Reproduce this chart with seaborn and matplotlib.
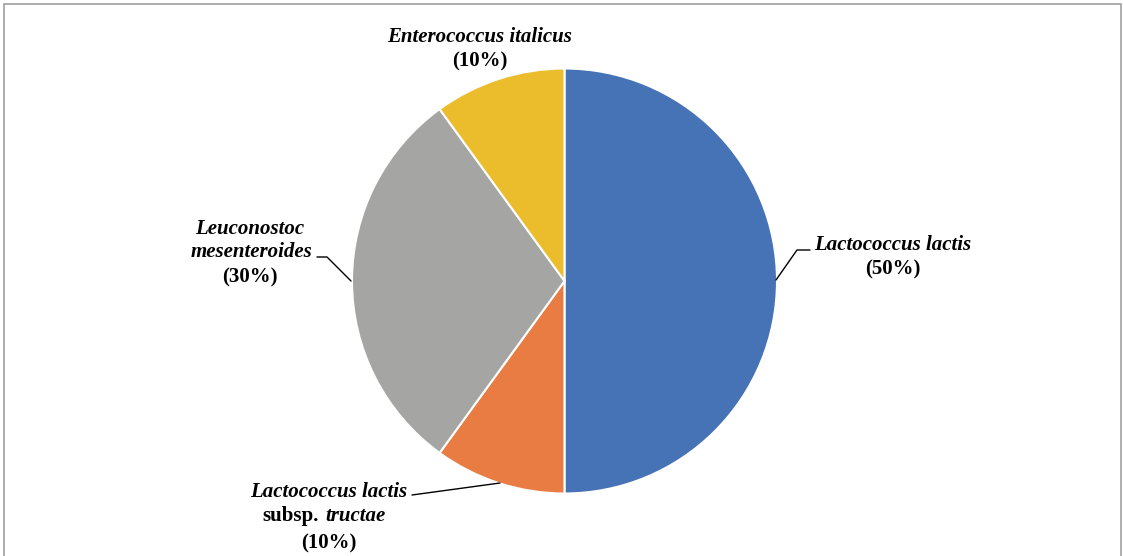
import matplotlib
matplotlib.use("Agg")
import matplotlib.pyplot as plt
from matplotlib.patches import Rectangle
import seaborn as sns

# Species composition of the isolates
species = ["Lactococcus lactis",
           "Lactococcus lactis subsp. tructae",
           "Leuconostoc mesenteroides",
           "Enterococcus italicus"]
shares = [50, 10, 30, 10]
colors = ["#4672B6", "#E97C42", "#A5A5A4", "#EBBC2C"]

sns.set_theme(style="white")
plt.rcParams["font.family"] = ["Liberation Serif", "DejaVu Serif"]
plt.rcParams["text.color"] = "black"

W, H = 1123, 556
fig = plt.figure(figsize=(W / 100, H / 100), dpi=100)
ax = fig.add_axes([0, 0, 1, 1])


def py(y):
    """Convert a top-down pixel row into the axis' y coordinate."""
    return H - y


ax.pie(shares, colors=colors, startangle=90, counterclock=False,
       center=(564.5, py(281)), radius=212.5, frame=True,
       wedgeprops=dict(edgecolor="white", linewidth=1.5))
ax.set_xlim(0, W)
ax.set_ylim(0, H)
ax.set_aspect("equal")
ax.axis("off")

fs = 15
txt = dict(fontsize=fs, fontweight="bold", color="black",
           ha="center", va="center")

# Lactococcus lactis
ax.text(893, py(245), "Lactococcus lactis", style="italic", **txt)
ax.text(893, py(269), f"({shares[0]}%)", **txt)
ax.plot([776, 797, 810], [py(280), py(250), py(250)], color="black", lw=1)

# Enterococcus italicus
ax.text(480, py(37), "Enterococcus italicus", style="italic", **txt)
ax.text(480, py(61), f"({shares[3]}%)", **txt)

# Leuconostoc mesenteroides
ax.text(250, py(229), "Leuconostoc", style="italic", **txt)
ax.text(251, py(252), "mesenteroides", style="italic", **txt)
ax.text(250, py(277), f"({shares[2]}%)", **txt)
ax.plot([317, 327, 351], [py(257), py(257), py(281)], color="black", lw=1)

# Lactococcus lactis subsp. tructae
ax.text(329, py(492), "Lactococcus lactis", style="italic", **txt)
ax.text(319, py(516), "subsp.", fontsize=fs, fontweight="bold",
        color="black", ha="right", va="center")
ax.text(325, py(516), "tructae", fontsize=fs, fontweight="bold",
        color="black", style="italic", ha="left", va="center")
ax.text(329, py(543), f"({shares[1]}%)", **txt)
ax.plot([412, 500], [py(495), py(483)], color="black", lw=1)

# Outer chart frame
fig.patches.append(Rectangle((4 / W, -0.05), (1121 - 4) / W, (H - 4) / H + 0.05,
                             transform=fig.transFigure, fill=False,
                             edgecolor="#A0A0A0", linewidth=1.2))

fig.savefig("out.png", dpi=100)
